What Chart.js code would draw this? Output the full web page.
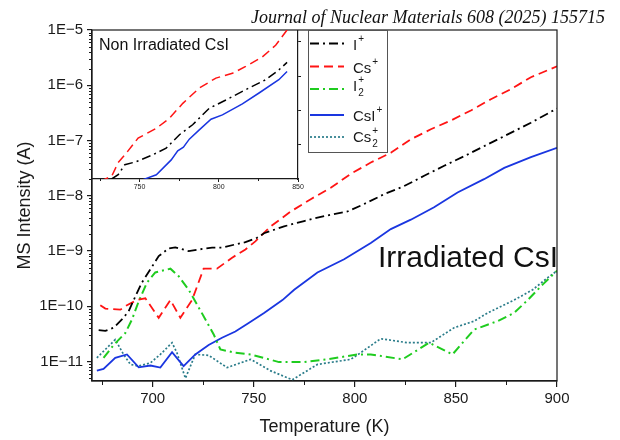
<!DOCTYPE html>
<html>
<head>
<meta charset="utf-8">
<script src="https://cdn.jsdelivr.net/npm/chart.js@4.4.1/dist/chart.umd.min.js"></script>
<style>
  html, body { margin: 0; padding: 0; background: #fff; }
  #wrap { position: relative; width: 620px; height: 440px; background: #fff; font-family: "Liberation Sans", Arial, sans-serif; }
  #mainBox { position: absolute; left: 0; top: 0; width: 620px; height: 440px; }
  #insetBox { position: absolute; left: 92px; top: 30px; width: 218px; height: 161px; }
  .txt { position: absolute; white-space: nowrap; color: #111; }
  #journal { right: 15px; top: 8px; font: italic 18px/18px "Liberation Serif", "DejaVu Serif", serif; }
  #irr { left: 378px; top: 242px; font-size: 30px; line-height: 30px; }
  #nonIrr { left: 99px; top: 37px; font-size: 16px; line-height: 16px; }
</style>
</head>
<body>
<div id="wrap">
  <div id="mainBox"><canvas id="main"></canvas></div>
  <div id="insetBox"><canvas id="inset"></canvas></div>
  <div class="txt" id="journal">Journal of Nuclear Materials 608 (2025) 155715</div>
  <div class="txt" id="irr">Irradiated CsI</div>
  <div class="txt" id="nonIrr">Non Irradiated CsI</div>
</div>
<script>
// ---- main plot (irradiated) ----
const tempI = [673.3, 676.6, 680.7, 684.8, 688.1, 691.4, 694.7, 698.9, 703.0, 707.9, 711.2, 717.8, 722.8, 729.4, 734.3, 740.9, 745.9, 751.6, 755.1, 765.0, 774.9, 784.8, 796.4, 804.6, 814.5, 824.4, 834.3, 844.2, 854.1, 863.9, 873.9, 887.1, 900];
const valI = [3.7e-11, 3.6e-11, 4.1e-11, 5.8e-11, 8.1e-11, 1.5e-10, 2.7e-10, 4.7e-10, 8.1e-10, 1.12e-9, 1.17e-9, 1.0e-9, 1.07e-9, 1.15e-9, 1.15e-9, 1.32e-9, 1.45e-9, 1.74e-9, 2.1e-9, 2.8e-9, 3.5e-9, 4.3e-9, 5.2e-9, 7.1e-9, 1.07e-8, 1.5e-8, 2.3e-8, 3.5e-8, 5.2e-8, 7.9e-8, 1.2e-7, 2.1e-7, 3.8e-7];

const tempCs = [674.1, 676.6, 684.0, 687.3, 692.2, 696.4, 703.0, 708.8, 713.7, 719.5, 725.2, 731.8, 739.3, 745.9, 750.8, 758.4, 768.3, 778.2, 788.1, 798.0, 807.9, 817.8, 827.7, 837.6, 847.5, 857.4, 867.3, 877.2, 887.1, 900];
const valCs = [1.05e-10, 9.1e-11, 8.7e-11, 1.05e-10, 1.3e-10, 1.4e-10, 6.2e-11, 1.3e-10, 6.2e-11, 1.3e-10, 4.8e-10, 4.8e-10, 7.6e-10, 1.07e-9, 1.5e-9, 2.8e-9, 5.2e-9, 8.7e-9, 1.4e-8, 2.5e-8, 4.0e-8, 6.0e-8, 1.05e-7, 1.6e-7, 2.3e-7, 3.5e-7, 5.6e-7, 8.5e-7, 1.4e-6, 2.2e-6];

const tempI2 = [675.7, 680.7, 686.5, 689.8, 693.1, 697.2, 701.3, 708.8, 712.9, 717.8, 721.1, 726.1, 730.2, 733.5, 740.9, 748.5, 762.5, 774.9, 786.5, 801.3, 807.9, 823.6, 836.8, 848.3, 859.0, 870.6, 878.8, 885.5, 893.0, 900];
const valI2 = [1.17e-11, 2.0e-11, 3.3e-11, 5.8e-11, 1.23e-10, 2.7e-10, 4.1e-10, 4.8e-10, 3.5e-10, 2.0e-10, 1.23e-10, 5.8e-11, 3.1e-11, 1.66e-11, 1.45e-11, 1.35e-11, 9.8e-12, 9.8e-12, 1.1e-11, 1.35e-11, 1.35e-11, 1.1e-11, 2.2e-11, 1.35e-11, 3.8e-11, 5.4e-11, 7.6e-11, 1.3e-10, 2.5e-10, 4.4e-10];

const tempCsI = [672.4, 675.7, 681.5, 687.3, 693.1, 698.9, 703.8, 709.6, 715.3, 721.1, 727.7, 734.3, 740.9, 747.5, 755.1, 764.2, 770.0, 781.5, 794.7, 807.9, 817.8, 827.7, 839.2, 850.8, 863.9, 873.9, 887.1, 900];
const valCsI = [6.9e-12, 7.4e-12, 1.17e-11, 1.35e-11, 7.9e-12, 8.5e-12, 7.8e-12, 1.48e-11, 8.3e-12, 1.35e-11, 2.0e-11, 2.7e-11, 3.5e-11, 5.0e-11, 7.6e-11, 1.3e-10, 2.0e-10, 4.1e-10, 7.1e-10, 1.4e-9, 2.5e-9, 3.7e-9, 6.2e-9, 1.15e-8, 2.0e-8, 3.2e-8, 5.0e-8, 7.4e-8];

const tempCs2 = [672.4, 676.6, 681.5, 685.6, 689.0, 693.1, 698.9, 703.8, 709.6, 712.0, 716.2, 721.1, 727.7, 736.8, 748.5, 758.4, 769.1, 781.5, 798.0, 802.9, 812.8, 826.0, 837.6, 849.1, 859.0, 865.7, 878.8, 888.0, 895.4, 900];
const valCs2 = [1.17e-11, 1.66e-11, 2.5e-11, 1.35e-11, 8.9e-12, 8.3e-12, 9.5e-12, 1.35e-11, 2.2e-11, 1.45e-11, 5.0e-12, 1.35e-11, 1.3e-11, 7.8e-12, 1.1e-11, 6.8e-12, 4.7e-12, 8.9e-12, 1.1e-11, 1.45e-11, 2.6e-11, 2.2e-11, 2.2e-11, 4.1e-11, 5.4e-11, 7.6e-11, 1.3e-10, 2.0e-10, 3.3e-10, 4.4e-10];

// ---- inset (non irradiated) ----
const inTempCs = [725.0, 732.4, 736.5, 741.8, 749.1, 760.6, 768.9, 777.3, 787.8, 798.2, 808.6, 817.0, 827.5, 835.9, 843.1];
const inValCs = [8.5e-11, 1.2e-10, 3.0e-10, 5.8e-10, 1.55e-9, 3.0e-9, 5.9e-9, 1.6e-8, 4.5e-8, 8.7e-8, 1.2e-7, 1.9e-7, 3.6e-7, 7.9e-7, 2.2e-6];
const inTempI = [732.4, 736.5, 740.7, 748.0, 758.5, 766.8, 775.2, 783.5, 794.0, 804.5, 817.0, 829.6, 837.9, 843.1];
const inValI = [1.0e-10, 1.33e-10, 2.6e-10, 3.2e-10, 5.1e-10, 7.9e-10, 1.95e-9, 3.8e-9, 1.15e-8, 2.0e-8, 4.0e-8, 7.8e-8, 1.5e-7, 2.5e-7];
const inTempCsI = [750.4, 760.6, 770.0, 774.1, 777.7, 781.4, 787.7, 795.1, 802.3, 814.9, 825.4, 837.9, 843.1];
const inValCsI = [8.9e-11, 1.33e-10, 3.6e-10, 6.6e-10, 8.5e-10, 1.45e-9, 2.7e-9, 5.5e-9, 7.4e-9, 1.55e-8, 3.2e-8, 7.8e-8, 1.35e-7];

// ticks
const xTicks = [700, 750, 800, 850, 900];
const xMinorTicks = [675, 725, 775, 825, 875];
const yTicks = [1e-11, 1e-10, 1e-9, 1e-8, 1e-7, 1e-6, 1e-5];
const inXTicks = [750, 800, 850];
const inXMinorTicks = [725, 775, 825];
const inYTicks = [1e-9, 1e-8, 1e-7, 1e-6];

// legend text pieces
const legendBase = ['I', 'Cs', 'I', 'CsI', 'Cs'];
const legendSub = ['', '', '2', '', '2'];
const legendSup = ['+', '+', '+', '+', '+'];

const FONT = '"Liberation Sans", Arial, sans-serif';
const INK = '#1a1a1a';

const styles = [
  { color: '#000000', dash: [9, 4, 2, 4], width: 1.8 },
  { color: '#ff1414', dash: [9, 5], width: 1.8 },
  { color: '#1fcc1f', dash: [9, 4, 2, 4], width: 2 },
  { color: '#1a36e0', dash: [], width: 1.8 },
  { color: '#2a7c8a', dash: [2, 2], width: 1.7 }
];

function pts(xs, ys) {
  return xs.map((x, i) => ({ x: x, y: ys[i] }));
}

function ds(xs, ys, st, w) {
  return {
    data: pts(xs, ys),
    borderColor: st.color,
    borderDash: st.dash,
    borderWidth: w || st.width,
    pointRadius: 0,
    tension: 0,
    fill: false
  };
}

const frameAndTicks = {
  id: 'frameAndTicks',
  afterDraw(chart) {
    const { ctx, chartArea: a, scales } = chart;
    const x = scales.x, y = scales.y;
    ctx.save();
    ctx.strokeStyle = INK;
    ctx.lineWidth = 1.2;
    ctx.strokeRect(a.left, a.top, a.right - a.left, a.bottom - a.top);
    // minor ticks
    ctx.lineWidth = 1;
    ctx.beginPath();
    xMinorTicks.forEach(v => {
      const px = Math.round(x.getPixelForValue(v)) + 0.5;
      ctx.moveTo(px, a.bottom);
      ctx.lineTo(px, a.bottom + 4);
    });
    for (let n = -12; n <= -6; n++) {
      for (let k = 2; k <= 9; k++) {
        const v = k * Math.pow(10, n);
        if (v < y.min || v > y.max) continue;
        const py = Math.round(y.getPixelForValue(v)) + 0.5;
        ctx.moveTo(a.left - 3, py);
        ctx.lineTo(a.left, py);
      }
    }
    ctx.stroke();

    // legend
    const lx = 308, ly = 30, lw = 79, lh = 122;
    ctx.fillStyle = '#fff';
    ctx.fillRect(lx, ly, lw, lh);
    ctx.strokeStyle = '#555';
    ctx.lineWidth = 1;
    ctx.strokeRect(lx + 0.5, ly + 0.5, lw, lh);
    const rowY = [43.5, 66.5, 89, 115, 137];
    const baseY = [49.5, 72.5, 90.5, 120.5, 142];
    chart.data.datasets.forEach((d, i) => {
      ctx.strokeStyle = d.borderColor;
      ctx.lineWidth = d.borderWidth;
      ctx.setLineDash(d.borderDash);
      ctx.beginPath();
      ctx.moveTo(310, rowY[i]);
      ctx.lineTo(344, rowY[i]);
      ctx.stroke();
      ctx.setLineDash([]);
      ctx.fillStyle = INK;
      ctx.textBaseline = 'alphabetic';
      ctx.textAlign = 'left';
      ctx.font = '15px ' + FONT;
      ctx.fillText(legendBase[i], 353, baseY[i]);
      const w = ctx.measureText(legendBase[i]).width + 1;
      ctx.font = '10px ' + FONT;
      if (legendSub[i]) ctx.fillText(legendSub[i], 353 + w, baseY[i] + 5);
      ctx.fillText(legendSup[i], 353 + w, baseY[i] - 8);
    });
    ctx.restore();
  }
};

new Chart(document.getElementById('main'), {
  type: 'line',
  data: {
    datasets: [
      ds(tempI, valI, styles[0]),
      ds(tempCs, valCs, styles[1]),
      ds(tempI2, valI2, styles[2]),
      ds(tempCsI, valCsI, styles[3]),
      ds(tempCs2, valCs2, styles[4])
    ]
  },
  options: {
    responsive: true,
    maintainAspectRatio: false,
    animation: false,
    layout: { padding: { top: 30, right: 63, left: 0, bottom: 0 } },
    plugins: { legend: { display: false }, tooltip: { enabled: false } },
    scales: {
      x: {
        type: 'linear', min: 670, max: 900,
        afterBuildTicks: s => { s.ticks = xTicks.map(v => ({ value: v })); },
        afterFit: s => { s.height = 59; },
        ticks: { color: INK, font: { family: FONT, size: 15 }, padding: 3, maxRotation: 0, autoSkip: false },
        grid: { drawOnChartArea: false, tickLength: 6, color: INK, lineWidth: 1.2 },
        border: { color: INK, width: 1.2 },
        title: { display: true, text: 'Temperature (K)', color: INK, font: { family: FONT, size: 18 }, padding: { top: 0, bottom: 2 } }
      },
      y: {
        type: 'logarithmic', min: 4.46e-12, max: 1e-5,
        afterBuildTicks: s => { s.ticks = yTicks.map(v => ({ value: v })); },
        afterFit: s => { s.width = 92; },
        ticks: {
          color: INK, font: { family: FONT, size: 15 }, padding: 4, autoSkip: false,
          callback: v => '1E\u2212' + Math.round(-Math.log10(v))
        },
        grid: { drawOnChartArea: false, tickLength: 5, color: INK, lineWidth: 1.2 },
        border: { color: INK, width: 1.2 },
        title: { display: true, text: 'MS Intensity (A)', color: INK, font: { family: FONT, size: 18 }, padding: { top: 14, bottom: 0 } }
      }
    }
  },
  plugins: [frameAndTicks]
});

const insetMinor = {
  id: 'insetMinor',
  afterDraw(chart) {
    const { ctx, chartArea: a, scales } = chart;
    ctx.save();
    ctx.strokeStyle = INK;
    ctx.lineWidth = 1;
    ctx.beginPath();
    inXMinorTicks.forEach(v => {
      const px = Math.round(scales.x.getPixelForValue(v)) + 0.5;
      ctx.moveTo(px, a.bottom);
      ctx.lineTo(px, a.bottom + 2);
    });
    ctx.stroke();
    ctx.restore();
  }
};

new Chart(document.getElementById('inset'), {
  type: 'line',
  data: {
    datasets: [
      ds(inTempI, inValI, styles[0], 1.5),
      ds(inTempCs, inValCs, styles[1], 1.5),
      ds(inTempCsI, inValCsI, styles[3], 1.5)
    ]
  },
  options: {
    responsive: true,
    maintainAspectRatio: false,
    animation: false,
    layout: { padding: 0 },
    plugins: { legend: { display: false }, tooltip: { enabled: false } },
    scales: {
      x: {
        type: 'linear', min: 720, max: 850,
        afterBuildTicks: s => { s.ticks = inXTicks.map(v => ({ value: v })); },
        afterFit: s => { s.height = 12; },
        ticks: { color: INK, font: { family: FONT, size: 7 }, padding: 1, maxRotation: 0, autoSkip: false },
        grid: { drawOnChartArea: false, tickLength: 3, color: INK, lineWidth: 1 },
        border: { color: INK, width: 1.2 }
      },
      y: {
        type: 'logarithmic', position: 'right', min: 1e-10, max: 2.19e-6,
        afterBuildTicks: s => { s.ticks = inYTicks.map(v => ({ value: v })); },
        afterFit: s => { s.width = 12; },
        ticks: { display: false },
        grid: { drawOnChartArea: false, tickLength: 3, color: INK, lineWidth: 1 },
        border: { color: INK, width: 1.2 }
      }
    }
  },
  plugins: [insetMinor]
});
</script>
</body>
</html>
